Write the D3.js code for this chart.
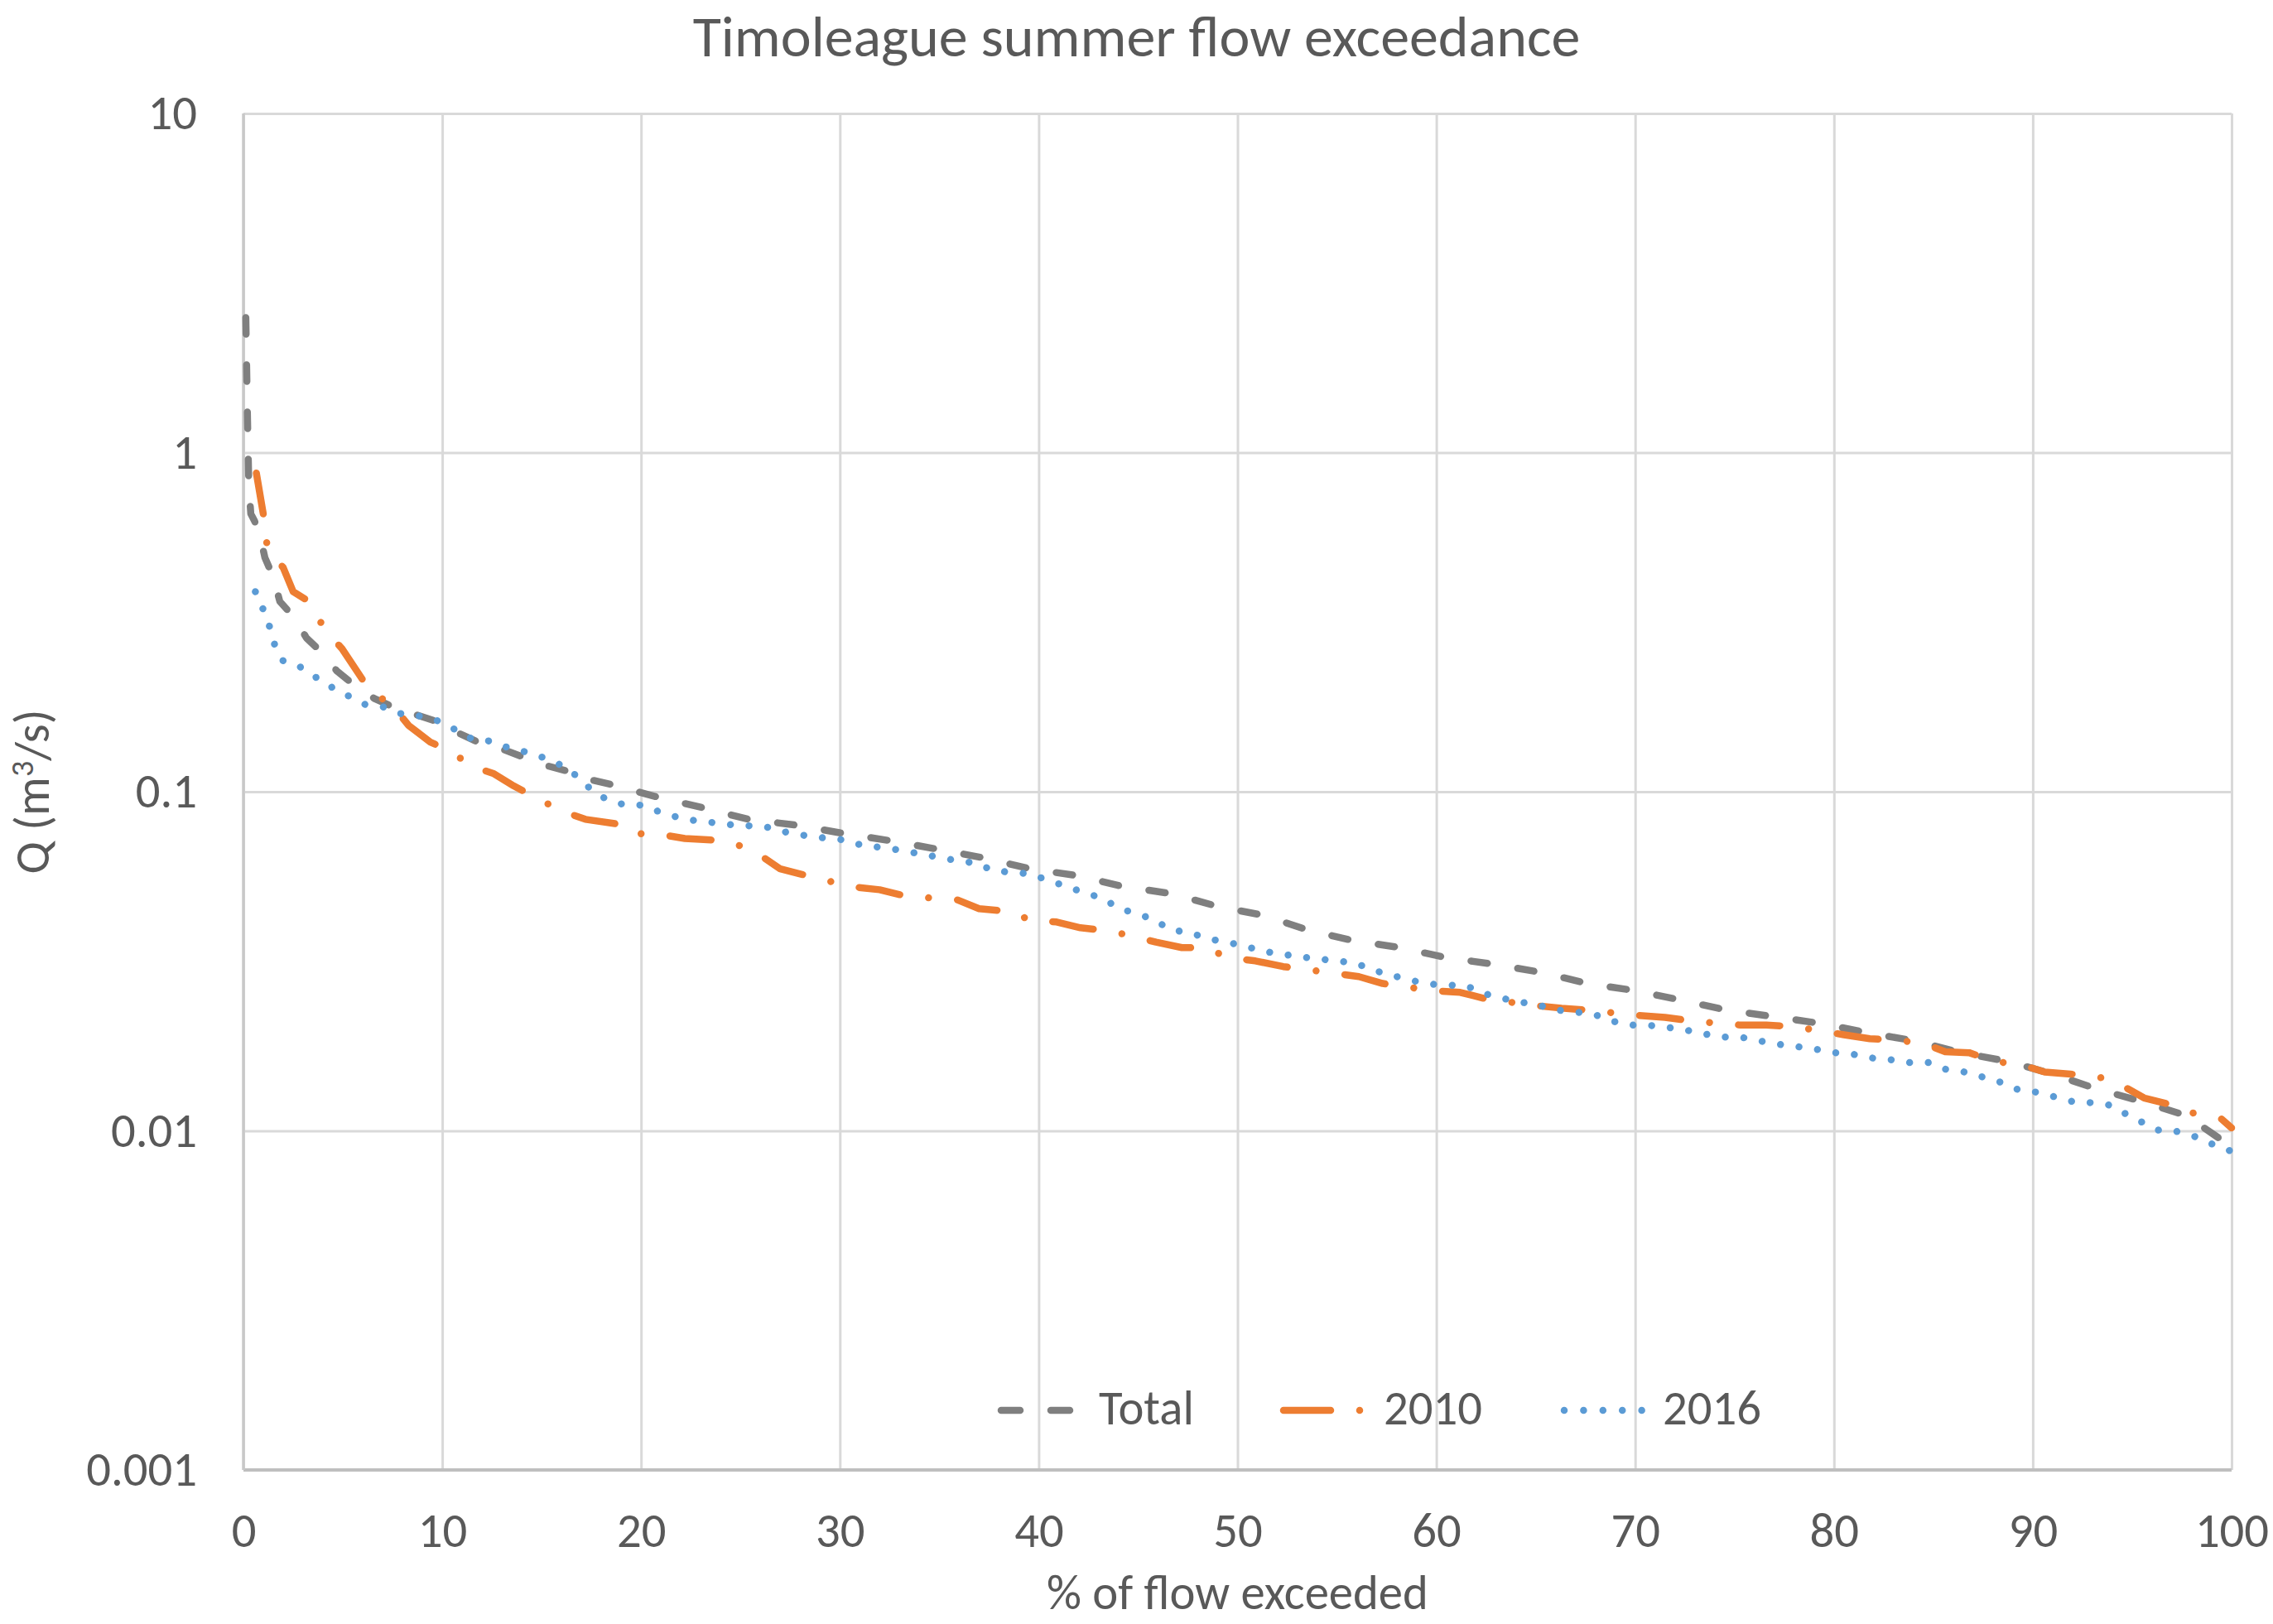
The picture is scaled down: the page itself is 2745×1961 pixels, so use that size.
<!DOCTYPE html>
<html>
<head>
<meta charset="utf-8">
<script src="https://cdn.jsdelivr.net/npm/d3@7"></script>
<style>
html, body { margin: 0; padding: 0; background: #ffffff; }
svg { display: block; }
text { font-family: Carlito, Calibri, Lato, "Open Sans", sans-serif; fill: #595959; }
</style>
</head>
<body>
<svg id="chart" width="2745" height="1961"></svg>
<script>
// ---------------- DATA ----------------
const chartTitle = "Timoleague summer flow exceedance";
const xAxisTitle = "% of flow exceeded";
const seriesNames = ["Total", "2010", "2016"];

const xTicks = [0, 10, 20, 30, 40, 50, 60, 70, 80, 90, 100];
const xTickLabels = ["0", "10", "20", "30", "40", "50", "60", "70", "80", "90", "100"];
const yTicks = [0.001, 0.01, 0.1, 1, 10];
const yTickLabels = ["0.001", "0.01", "0.1", "1", "10"];

// Total (all years)
const totalX = [0.12, 0.2, 0.27, 0.37, 0.55, 0.8, 1.08, 1.5, 1.83, 2.54, 3.17, 3.92, 4.7, 5.58, 6.6, 7.6, 8.9, 9.75,
  10.7, 11.8, 12.95, 14.0, 15.1, 16.3, 17.3, 18.5, 20.8, 23.1, 25.4, 27.8, 30.2, 32.6, 34.9, 37.3, 39.6, 42.0, 44.0,
  46.7, 49.0, 51.3, 53.6, 55.9, 58.2, 60.5, 62.9, 65.3, 67.6, 70.0, 72.3, 74.6, 77.0, 79.4, 81.8, 84.1, 86.4, 88.8,
  91.0, 93.2, 95.5, 97.7, 99.5, 100];
const totalQ = [2.5, 1.3, 0.8, 0.66, 0.63, 0.58, 0.49, 0.43, 0.364, 0.327, 0.284, 0.258, 0.227, 0.206, 0.188, 0.177, 0.167, 0.161,
  0.150, 0.140, 0.134, 0.127, 0.120, 0.115, 0.109, 0.105, 0.0965, 0.0897, 0.0829, 0.0797, 0.0753, 0.0716, 0.0677, 0.0637, 0.0592, 0.0565, 0.0529,
  0.0500, 0.0459, 0.0432, 0.0390, 0.0363, 0.0347, 0.0324, 0.0310, 0.0293, 0.0272, 0.0259, 0.0243, 0.0227, 0.0217, 0.0207, 0.0194, 0.0184, 0.0170, 0.0160,
  0.0147, 0.0133, 0.0122, 0.0111, 0.0094, 0.0088];

// 2010
const y2010X = [0.65, 1.08, 1.2, 2.0, 2.5, 3.2, 3.46, 4.1, 4.96, 6.4, 7.45, 8.3, 9.4, 10.4, 11.45, 12.6, 13.6, 15.95,
  17.2, 18.7, 19.5, 20.9, 22.2, 23.6, 24.7, 25.9, 27.0, 29.5, 30.8, 32.0, 33.4, 34.6, 35.9, 37.0, 38.8, 39.5, 40.9,
  42.1, 43.3, 44.6, 45.9, 47.2, 48.3, 49.6, 50.9, 52.3, 54.6, 56.1, 57.3, 59.8, 61.2, 62.5, 65.0, 66.3, 67.6, 70.1,
  71.5, 72.8, 75.3, 76.6, 78.0, 80.5, 81.8, 83.0, 84.4, 85.6, 86.8, 88.1, 89.4, 90.6, 91.9, 93.2, 94.4, 95.6, 96.8,
  98.1, 99.5, 100];
const y2010Q = [0.87, 0.617, 0.52, 0.458, 0.389, 0.367, 0.351, 0.300, 0.264, 0.197, 0.181, 0.157, 0.140, 0.132, 0.119, 0.113, 0.104, 0.088,
  0.0829, 0.0805, 0.0753, 0.0749, 0.0728, 0.0720, 0.0704, 0.0655, 0.0592, 0.0544, 0.0523, 0.0514, 0.0491, 0.0486, 0.0480, 0.0452, 0.0442, 0.0418, 0.0413,
  0.0397, 0.0390, 0.0377, 0.0360, 0.0347, 0.0347, 0.0324, 0.0317, 0.0305, 0.0293, 0.0285, 0.0272, 0.0259, 0.0256, 0.0245, 0.0234, 0.0230, 0.0227, 0.0219,
  0.0216, 0.0211, 0.0205, 0.0205, 0.0203, 0.0192, 0.0187, 0.0185, 0.0182, 0.0171, 0.0170, 0.0160, 0.0157, 0.0149, 0.0147, 0.0145, 0.0137, 0.0125, 0.0120,
  0.01127, 0.01083, 0.0102];

// 2016
const y2016X = [0.6, 1.0, 1.33, 1.58, 2.0, 2.87, 3.67, 4.46, 5.33, 6.1, 7.0, 7.9, 8.9, 9.75, 10.6, 11.5, 12.4, 13.3, 14.2,
  15.1, 15.95, 16.7, 17.4, 18.2, 19.1, 20.1, 20.95, 21.9, 22.8, 23.7, 24.7, 25.7, 26.6, 27.5, 28.4, 29.4, 30.3, 31.2,
  32.2, 33.2, 34.1, 35.0, 35.9, 36.9, 37.7, 38.7, 39.6, 40.5, 41.4, 42.3, 43.2, 44.0, 44.9, 45.8, 46.6, 47.6, 48.5,
  49.4, 50.3, 51.2, 52.1, 53.1, 54.0, 54.9, 55.9, 56.8, 57.7, 58.6, 59.6, 60.5, 61.5, 62.3, 63.3, 64.2, 65.1, 66.1,
  67.0, 67.9, 68.8, 69.7, 70.6, 71.6, 72.6, 73.5, 74.4, 75.3, 76.3, 77.2, 78.2, 79.1, 80.0, 81.0, 81.9, 82.9, 83.8,
  84.8, 85.6, 86.6, 87.5, 88.4, 89.3, 90.2, 91.1, 92.0, 93.0, 93.9, 94.7, 95.5, 96.4, 97.3, 98.2, 99.1, 100];
const y2016Q = [0.389, 0.344, 0.305, 0.270, 0.243, 0.233, 0.217, 0.203, 0.191, 0.181, 0.178, 0.170, 0.167, 0.162, 0.153, 0.143, 0.141, 0.135, 0.131,
  0.126, 0.120, 0.112, 0.1026, 0.0954, 0.0917, 0.0912, 0.0871, 0.0838, 0.0820, 0.0810, 0.0797, 0.0792, 0.0783, 0.0753, 0.0741, 0.0728, 0.0720, 0.0692,
  0.0685, 0.0669, 0.0655, 0.0640, 0.0626, 0.0615, 0.0585, 0.0578, 0.0572, 0.0547, 0.0526, 0.0503, 0.0486, 0.0454, 0.0437, 0.0420, 0.0392, 0.0384, 0.0369,
  0.0360, 0.0352, 0.0339, 0.0333, 0.0326, 0.0322, 0.0317, 0.0313, 0.0298, 0.0288, 0.0279, 0.0271, 0.0269, 0.0268, 0.0255, 0.0246, 0.0240, 0.0235, 0.0227,
  0.0224, 0.0221, 0.0211, 0.0205, 0.0205, 0.0202, 0.0198, 0.0193, 0.0189, 0.0189, 0.0184, 0.0180, 0.0177, 0.0174, 0.0170, 0.0168, 0.0164, 0.0162, 0.0159,
  0.0159, 0.0152, 0.0149, 0.0144, 0.0139, 0.0132, 0.0130, 0.0126, 0.0122, 0.0121, 0.0119, 0.0112, 0.0106, 0.0100, 0.00995, 0.0096, 0.0091, 0.0087];

// ---------------- LAYOUT / STYLE ----------------
const W = 2745, H = 1961;
const plot = { left: 294, right: 2695, top: 137, bottom: 1775 };
const colors = { "Total": "#7f7f7f", "2010": "#ed7d31", "2016": "#5b9bd5" };
const dashes = { "Total": "20,37", "2010": "50,35,0.01,35", "2016": "0.01,22.5" };
const lineWidth = 8.5;
const textColor = "#595959";
const gridColor = "#d9d9d9";
const fontTick = 58.7, fontTitle = 70, fontAxis = 58.7;
const fontStack = "Carlito, Calibri, Lato, sans-serif";

const svg = d3.select("#chart");
svg.append("rect").attr("width", W).attr("height", H).attr("fill", "#fff");

const x = d3.scaleLinear().domain([0, 100]).range([plot.left, plot.right]);
const y = d3.scaleLog().domain([0.001, 10]).range([plot.bottom, plot.top]);

// grid + tick labels via axes
const xAxis = d3.axisBottom(x).tickValues(xTicks)
  .tickFormat((d, i) => xTickLabels[i])
  .tickSize(-(plot.bottom - plot.top)).tickPadding(51);
const gx = svg.append("g").attr("transform", `translate(0,${plot.bottom})`).call(xAxis);
gx.select(".domain").remove();
gx.selectAll(".tick line").attr("stroke", gridColor).attr("stroke-width", 3);
gx.selectAll(".tick text").attr("font-size", fontTick).attr("fill", textColor)
  .style("font-family", fontStack);

const yAxis = d3.axisLeft(y).tickValues(yTicks)
  .tickFormat((d, i) => yTickLabels[i])
  .tickSize(-(plot.right - plot.left)).tickPadding(56);
const gy = svg.append("g").attr("transform", `translate(${plot.left},0)`).call(yAxis);
gy.select(".domain").remove();
gy.selectAll(".tick line").attr("stroke", gridColor).attr("stroke-width", 3);
gy.selectAll(".tick text").attr("font-size", fontTick).attr("fill", textColor)
  .style("font-family", fontStack);

// axis lines
svg.append("line").attr("x1", x(0)).attr("x2", x(100)).attr("y1", y(0.001)).attr("y2", y(0.001))
  .attr("stroke", "#bfbfbf").attr("stroke-width", 4);
svg.append("line").attr("x1", x(0)).attr("x2", x(0)).attr("y1", y(10)).attr("y2", y(0.001))
  .attr("stroke", "#c8c8c8").attr("stroke-width", 3.5);

// series
const seriesData = [
  { name: "Total", xs: totalX, qs: totalQ },
  { name: "2010", xs: y2010X, qs: y2010Q },
  { name: "2016", xs: y2016X, qs: y2016Q }
];
const line = d3.line().x(d => x(d[0])).y(d => y(d[1])).curve(d3.curveLinear);

svg.append("g").selectAll("path").data(seriesData).join("path")
  .attr("d", s => line(s.xs.map((v, i) => [v, s.qs[i]])))
  .attr("fill", "none")
  .attr("stroke", s => colors[s.name])
  .attr("stroke-width", lineWidth)
  .attr("stroke-linecap", "round")
  .attr("stroke-linejoin", "round")
  .attr("stroke-dasharray", s => dashes[s.name]);

// title
svg.append("text").attr("x", W / 2).attr("y", 68).attr("text-anchor", "middle")
  .attr("font-size", fontTitle).text(chartTitle);

// axis titles
svg.append("text").attr("x", (plot.left + plot.right) / 2).attr("y", 1943).attr("text-anchor", "middle")
  .attr("font-size", fontAxis).text(xAxisTitle);

const yt = svg.append("text").attr("text-anchor", "middle").attr("font-size", fontAxis)
  .attr("transform", `translate(59,${(plot.top + plot.bottom) / 2}) rotate(-90)`);
yt.append("tspan").text("Q (m");
yt.append("tspan").attr("font-size", fontAxis * 0.65).attr("dy", -fontAxis * 0.33).text("3");
yt.append("tspan").attr("dy", fontAxis * 0.33).text("/s)");

// legend
const legendItems = [
  { name: "Total", x1: 1209, x2: 1292, tx: 1327, dash: "23,37" },
  { name: "2010", x1: 1550, x2: 1646, tx: 1671, dash: "57,35,0.01,35" },
  { name: "2016", x1: 1889, x2: 1984, tx: 2008, dash: "0.01,23.4" }
];
const legendY = 1703;
const lg = svg.append("g");
legendItems.forEach(it => {
  lg.append("line").attr("x1", it.x1).attr("x2", it.x2).attr("y1", legendY).attr("y2", legendY)
    .attr("stroke", colors[it.name]).attr("stroke-width", lineWidth)
    .attr("stroke-linecap", "round").attr("stroke-dasharray", it.dash);
  lg.append("text").attr("x", it.tx).attr("y", 1720).attr("font-size", fontAxis).text(it.name);
});
</script>
</body>
</html>
